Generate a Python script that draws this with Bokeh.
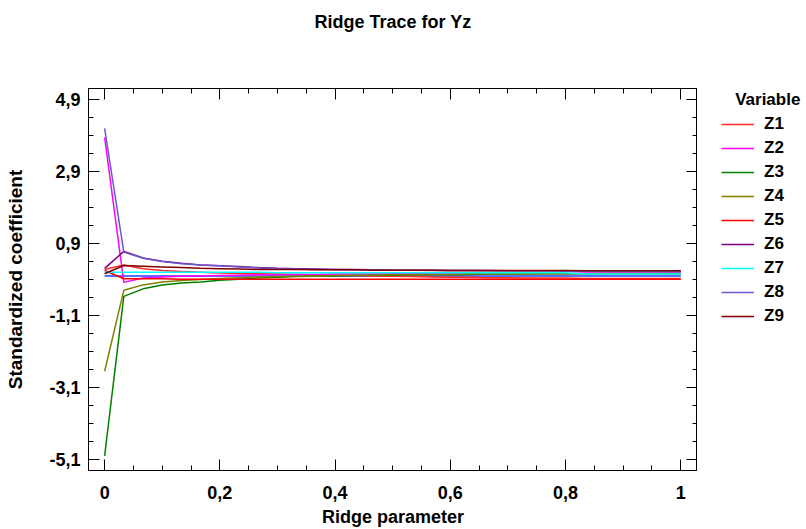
from bokeh.plotting import figure
from bokeh.models import (FixedTicker, LinearAxis, Legend, LegendItem, Range1d,
                          CustomJSTickFormatter)
from bokeh.layouts import row
from bokeh.embed import file_html
from bokeh.resources import INLINE

# ---------------- data ----------------
ridge = [0.0, 0.0333, 0.0667, 0.1, 0.1333, 0.1667, 0.2, 0.2333, 0.2667, 0.3,
         0.3333, 0.3667, 0.4, 0.4333, 0.4667, 0.5, 0.5333, 0.5667, 0.6, 0.6333,
         0.6667, 0.7, 0.7333, 0.7667, 0.8, 0.8333, 0.8667, 0.9, 0.9333, 0.9667, 1.0]

Z1 = [0.18, 0.30, 0.20, 0.15, 0.12, 0.10, 0.08, 0.07, 0.06, 0.05, 0.04, 0.03, 0.02, 0.01, 0.00, -0.01,
      -0.02, -0.03, -0.04, -0.04, -0.05, -0.05, -0.06, -0.06, -0.06, -0.07, -0.07, -0.07, -0.07, -0.07, -0.07]
Z2 = [3.85, -0.18, -0.06, -0.03, -0.01, 0.00, 0.01, 0.02, 0.03, 0.03, 0.04, 0.04, 0.05, 0.05, 0.05, 0.06,
      0.06, 0.06, 0.06, 0.07, 0.07, 0.07, 0.07, 0.07, 0.07, 0.08, 0.08, 0.08, 0.08, 0.08, 0.08]
Z3 = [-5.00, -0.57, -0.36, -0.25, -0.20, -0.17, -0.12, -0.09, -0.06, -0.04, -0.02, -0.01, 0.00, 0.01, 0.02, 0.02,
      0.03, 0.03, 0.03, 0.04, 0.05, 0.05, 0.06, 0.06, 0.06, 0.06, 0.07, 0.07, 0.07, 0.07, 0.07]
Z4 = [-2.65, -0.40, -0.25, -0.17, -0.13, -0.10, -0.07, -0.05, -0.03, -0.02, -0.01, 0.00, 0.01, 0.02, 0.02, 0.03,
      0.03, 0.04, 0.04, 0.05, 0.05, 0.05, 0.05, 0.06, 0.06, 0.06, 0.06, 0.06, 0.06, 0.06, 0.06]
Z5 = [0.15, -0.08, -0.08, -0.08, -0.09, -0.09, -0.09, -0.09, -0.09, -0.09, -0.09, -0.09, -0.09, -0.09, -0.09, -0.09,
      -0.09, -0.09, -0.09, -0.09, -0.09, -0.09, -0.09, -0.09, -0.09, -0.09, -0.09, -0.09, -0.09, -0.09, -0.09]
Z6 = [0.21, 0.68, 0.50, 0.41, 0.35, 0.30, 0.28, 0.26, 0.23, 0.21, 0.20, 0.19, 0.18, 0.18, 0.17, 0.16,
      0.16, 0.16, 0.15, 0.15, 0.15, 0.14, 0.14, 0.14, 0.14, 0.13, 0.13, 0.13, 0.13, 0.13, 0.13]
Z7 = [0.10, 0.10, 0.10, 0.10, 0.10, 0.10, 0.10, 0.10, 0.10, 0.09, 0.09, 0.09, 0.09, 0.09, 0.09, 0.09,
      0.09, 0.09, 0.09, 0.09, 0.09, 0.09, 0.09, 0.09, 0.09, 0.05, 0.05, 0.05, 0.05, 0.05, 0.05]
Z8 = [4.10, 0.66, 0.49, 0.40, 0.34, 0.30, 0.28, 0.25, 0.22, 0.20, 0.19, 0.18, 0.18, 0.17, 0.17, 0.16,
      0.16, 0.15, 0.15, 0.15, 0.14, 0.14, 0.14, 0.14, 0.13, 0.13, 0.13, 0.13, 0.13, 0.12, 0.12]
Z9 = [0.06, 0.29, 0.27, 0.25, 0.23, 0.21, 0.20, 0.19, 0.18, 0.18, 0.18, 0.17, 0.17, 0.17, 0.16, 0.16,
      0.16, 0.16, 0.15, 0.15, 0.15, 0.15, 0.15, 0.15, 0.15, 0.14, 0.14, 0.14, 0.14, 0.14, 0.14]

series_names = ["Z1", "Z2", "Z3", "Z4", "Z5", "Z6", "Z7", "Z8", "Z9"]
series_values = [Z1, Z2, Z3, Z4, Z5, Z6, Z7, Z8, Z9]
series_colors = ["#FF2A2A", "#FF00FF", "#008000", "#808000", "#FF0000",
                 "#800080", "#00FFFF", "#6A5ACD", "#800000"]

zero_level = [0.0, 0.0]

x_ticks = [0, 0.2, 0.4, 0.6, 0.8, 1.0]
x_tick_labels = ["0", "0,2", "0,4", "0,6", "0,8", "1"]
y_ticks = [-5.1, -3.1, -1.1, 0.9, 2.9, 4.9]
y_tick_labels = ["-5,1", "-3,1", "-1,1", "0,9", "2,9", "4,9"]

title_text = "Ridge Trace for Yz"
x_label = "Ridge parameter"
y_label = "Standardized coefficient"
legend_title = "Variable"

# ---------------- main figure ----------------
FONT = "Liberation Sans"

p = figure(frame_width=609, frame_height=382,
           x_range=Range1d(-0.028, 1.029), y_range=Range1d(-5.406, 5.206),
           output_backend="svg", toolbar_location=None,
           min_border_left=88, min_border_right=0, min_border_top=88, min_border_bottom=59,
           x_axis_location=None, y_axis_location=None)
p.grid.visible = False
p.outline_line_color = "black"
p.outline_line_width = 1
p.background_fill_color = "white"
p.border_fill_color = "white"

x_minor = [round(0.05 * k, 2) for k in range(0, 21)]
y_minor = [round(-5.1 + 0.5 * k, 2) for k in range(0, 21)]

blank = CustomJSTickFormatter(code="return ''")

def make_axis(kind, side, show_labels):
    ax = LinearAxis()
    if kind == "x":
        ax.ticker = FixedTicker(ticks=x_ticks, minor_ticks=x_minor)
    else:
        ax.ticker = FixedTicker(ticks=y_ticks, minor_ticks=y_minor)
    ax.major_tick_in = 11
    ax.major_tick_out = 0
    ax.minor_tick_in = 5
    ax.minor_tick_out = 0
    ax.axis_line_color = "black"
    ax.major_tick_line_color = "black"
    ax.minor_tick_line_color = "black"
    ax.major_tick_line_width = 1
    ax.minor_tick_line_width = 1
    ax.axis_label_text_font = FONT
    ax.axis_label_text_font_style = "bold"
    ax.axis_label_text_font_size = "18px"
    ax.axis_label_text_color = "black"
    if show_labels:
        if kind == "x":
            ax.major_label_overrides = dict(zip(x_ticks, x_tick_labels))
        else:
            ax.major_label_overrides = dict(zip(y_ticks, y_tick_labels))
        ax.major_label_text_font = FONT
        ax.major_label_text_font_style = "bold"
        ax.major_label_text_font_size = "18px"
        ax.major_label_text_color = "black"
    else:
        ax.formatter = blank
        ax.major_label_text_color = None
        ax.major_label_standoff = 0
    p.add_layout(ax, side)
    return ax

xb = make_axis("x", "below", True)
xb.axis_label = x_label
xb.major_label_standoff = 15
xb.axis_label_standoff = 5
yl = make_axis("y", "left", True)
yl.axis_label = y_label
yl.axis_label_text_font_size = "19px"
yl.major_label_standoff = 8
yl.axis_label_standoff = 20
xt = make_axis("x", "above", False)
xt.axis_label = title_text          # chart title drawn as the top axis label
xt.axis_label_standoff = 57
make_axis("y", "right", False)

# zero reference line across the ridge-parameter span
p.line(x=[ridge[0], ridge[-1]], y=zero_level, line_color="#2040FF", line_width=1.5)

for vals, col in zip(series_values, series_colors):
    p.line(x=ridge, y=vals, line_color=col, line_width=1.5)

# ---------------- legend panel (to the right of the frame) ----------------
# ranges chosen so the proxy series themselves stay out of view; only the legend shows
q = figure(width=109, height=529, output_backend="svg", toolbar_location=None,
           x_range=Range1d(5, 6), y_range=Range1d(50, 60),
           min_border=0, x_axis_location=None, y_axis_location=None)
q.grid.visible = False
q.outline_line_color = None
q.background_fill_color = "white"
q.border_fill_color = "white"

items = []
for name, vals, col in zip(series_names, series_values, series_colors):
    proxy = q.line(x=ridge, y=vals, line_color=col, line_width=1.5)
    items.append(LegendItem(label=name, renderers=[proxy]))

legend = Legend(items=items, location=(24, 144))
legend.title = "\u00a0\u00a0\u00a0" + legend_title
legend.title_text_font = FONT
legend.title_text_font_style = "bold"
legend.title_text_font_size = "17px"
legend.title_text_color = "black"
legend.title_standoff = 4
legend.margin = 0
legend.padding = 0
legend.spacing = 4
legend.glyph_width = 33
legend.glyph_height = 20
legend.label_height = 20
legend.label_standoff = 10
legend.label_text_font = FONT
legend.label_text_font_style = "bold"
legend.label_text_font_size = "17px"
legend.label_text_color = "black"
legend.border_line_color = None
legend.background_fill_alpha = 0
q.add_layout(legend, "center")

layout = row(p, q)
open("out.html", "w").write(file_html(layout, INLINE))
